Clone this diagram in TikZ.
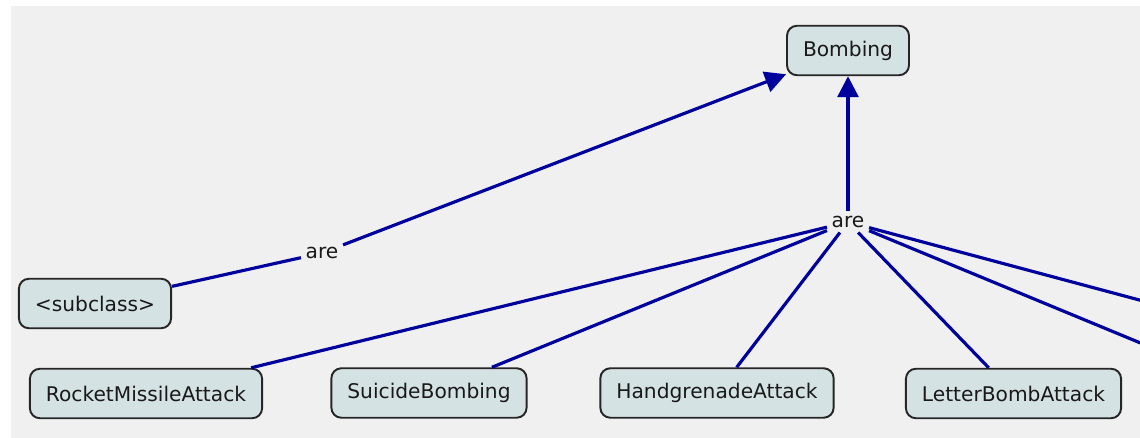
\documentclass[tikz,border=0pt]{standalone}
\usepackage{fontspec}
\setmainfont{DejaVu Sans}
\usetikzlibrary{arrows.meta}
\definecolor{mapbg}{HTML}{F0F0F0}
\definecolor{conceptfill}{HTML}{D5E2E4}
\definecolor{conceptline}{HTML}{262626}
\definecolor{linkblue}{HTML}{00009C}
\tikzset{
  concept/.style={draw=conceptline, line width=1.1pt, fill=conceptfill,
    rounded corners=0.2cm, minimum height=0.99cm, inner xsep=0.32cm,
    text=black!90, font=\fontsize{11.5}{14}\selectfont},
  linkword/.style={fill=mapbg, inner sep=2.5pt, text=black!90,
    font=\fontsize{11.5}{14}\selectfont},
  link/.style={draw=linkblue, line width=1.8pt},
  isa/.style={link, -{Triangle[length=0.42cm,width=0.42cm]}}
}
\begin{document}
\begin{tikzpicture}[x=0.02cm,y=-0.02cm]
  \useasboundingbox (0,0) rectangle (1140,438);
  \clip (0,0) rectangle (1140,438);
  \fill[mapbg] (11,6) rectangle (1140,438);
  \node[concept] (bombing) at (848,50.5) {Bombing};
  \node[concept] (subclass) at (95,303.5) {<subclass>};
  \node[concept] (rocket) at (146,393.5) {RocketMissileAttack};
  \node[concept] (suicide) at (429,393) {SuicideBombing};
  \node[concept] (grenade) at (717,393) {HandgrenadeAttack};
  \node[concept] (letter) at (1013.5,393.5) {LetterBombAttack};
  \node[linkword] (are1) at (322,253) {are};
  \node[linkword] (are2) at (848,222) {are};
  \coordinate (offa) at (1300,343);
  \coordinate (offb) at (1300,409);
  \draw[link] (subclass)-- (are1);
  \draw[isa] (are1)-- (bombing);
  \draw[isa] (are2)-- (bombing);
  \draw[link] (rocket)-- (are2);
  \draw[link] (suicide)-- (are2);
  \draw[link] (grenade)-- (are2);
  \draw[link] (letter)-- (are2);
  \draw[link] (are2)-- (offa);
  \draw[link] (are2)-- (offb);
\end{tikzpicture}
\end{document}
